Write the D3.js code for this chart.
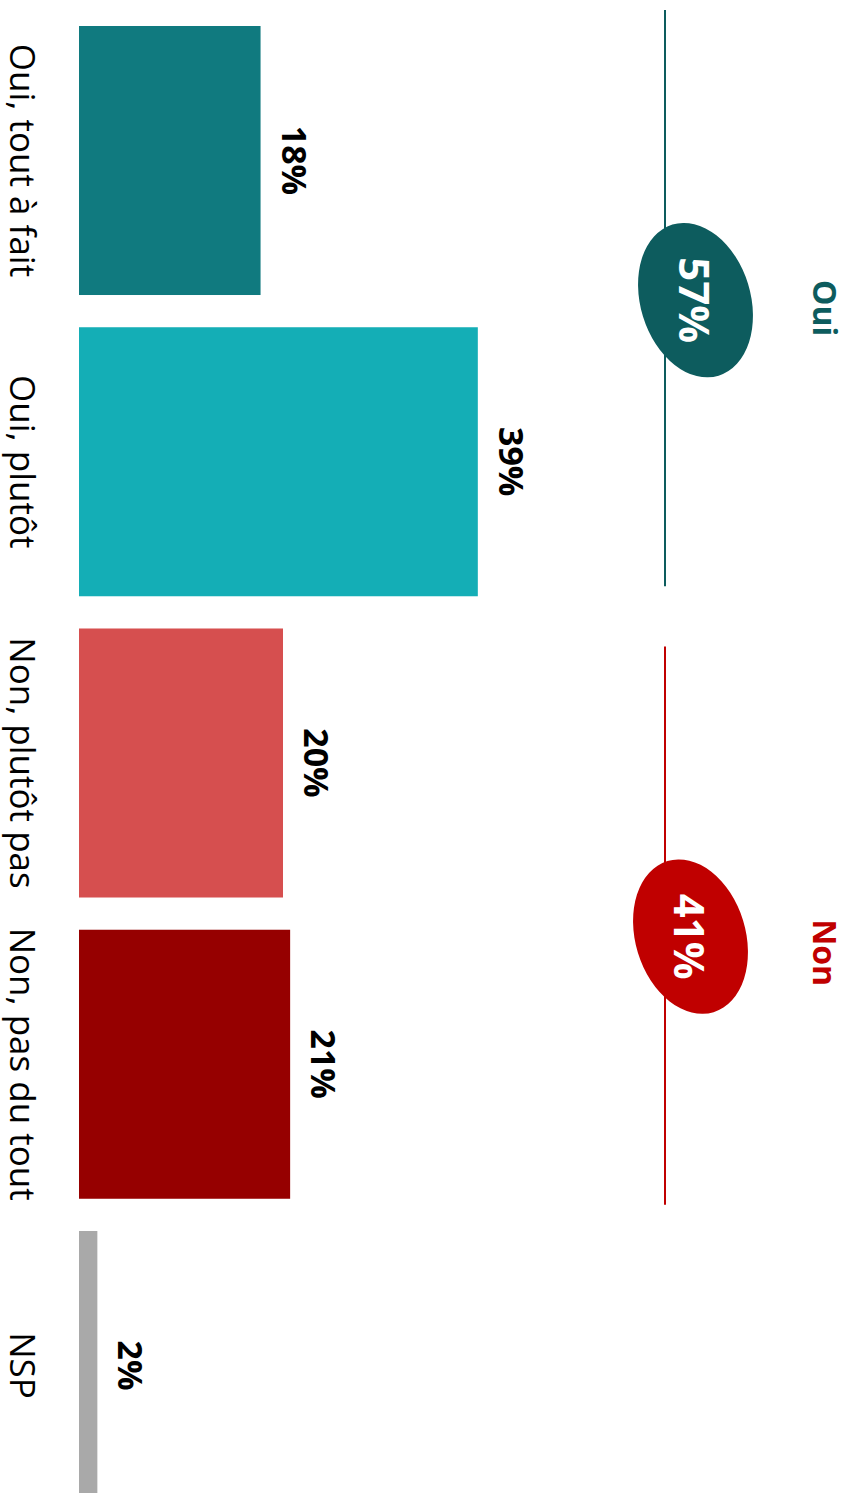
<!DOCTYPE html>
<html>
<head>
<meta charset="utf-8">
<script src="https://cdn.jsdelivr.net/npm/d3@7"></script>
<style>
  html, body { margin: 0; padding: 0; background: #ffffff; }
  svg { display: block; }
</style>
</head>
<body>
<svg id="chart" width="850" height="1493"></svg>
<script>
// ---- data ----
const categories = ["Oui, tout à fait", "Oui, plutôt", "Non, plutôt pas", "Non, pas du tout", "NSP"];
const values = [17.8, 39.1, 20.0, 20.7, 1.8];
const valueLabels = ["18%", "39%", "20%", "21%", "2%"];
const barColors = ["#107a7f", "#14aeb6", "#d64f4f", "#960000", "#a9a9a9"];

const groupNames = ["Oui", "Non"];
const groupTotals = ["57%", "41%"];
const groupMembers = [[0, 1], [2, 3]];
const groupColors = ["#0d5c5e", "#c00000"];

// ---- layout (rotated frame: x runs down the page, y runs right-to-left) ----
const W = 1493, H = 850;
const svg = d3.select("#chart");
const g = svg.append("g").attr("transform", `translate(${H},0) rotate(90)`);

const x = d3.scaleBand().domain(categories).range([26, 1500]).paddingInner(0.107).paddingOuter(0);
const y = d3.scaleLinear().domain([0, 100]).range([771, 771 - 1020]);

// bars
g.selectAll("rect.bar").data(categories).join("rect")
  .attr("class", "bar")
  .attr("x", d => x(d))
  .attr("width", x.bandwidth())
  .attr("y", (d, i) => y(values[i]))
  .attr("height", (d, i) => y(0) - y(values[i]))
  .attr("fill", (d, i) => barColors[i]);

// value labels
g.selectAll("text.val").data(categories).join("text")
  .attr("class", "val")
  .attr("x", d => x(d) + x.bandwidth() / 2)
  .attr("y", (d, i) => y(values[i]) - 21)
  .attr("text-anchor", "middle")
  .attr("font-family", "'Open Sans', sans-serif")
  .attr("font-weight", 700)
  .attr("font-size", 34)
  .attr("fill", "#000")
  .text((d, i) => valueLabels[i]);

// category labels
g.selectAll("text.cat").data(categories).join("text")
  .attr("class", "cat")
  .attr("x", d => x(d) + x.bandwidth() / 2)
  .attr("y", 840)
  .attr("text-anchor", "middle")
  .attr("font-family", "'Open Sans', sans-serif")
  .attr("font-size", 35)
  .attr("fill", "#000")
  .text(d => d);

// group brackets
const lineY = 185;
const lineInset = [[-16, -10], [18, 6]];
const ellipseShift = [[2, 0], [11, 5]];
const labelShift = [10, 27];
groupNames.forEach((name, k) => {
  const first = categories[groupMembers[k][0]];
  const last = categories[groupMembers[k][groupMembers[k].length - 1]];
  const x0 = x(first) + lineInset[k][0];
  const x1 = x(last) + x.bandwidth() + lineInset[k][1];
  const mid = (x0 + x1) / 2;
  g.append("line")
    .attr("x1", x0).attr("x2", x1)
    .attr("y1", lineY).attr("y2", lineY)
    .attr("stroke", groupColors[k]).attr("stroke-width", 2);
  const cx = mid + ellipseShift[k][0];
  const cy = 154.5 + ellipseShift[k][1];
  g.append("ellipse")
    .attr("cx", cx).attr("cy", cy)
    .attr("rx", 79).attr("ry", 55)
    .attr("transform", `rotate(-17,${cx},${cy})`)
    .attr("fill", groupColors[k]);
  g.append("text")
    .attr("x", cx).attr("y", cy)
    .attr("text-anchor", "middle")
    .attr("dominant-baseline", "central")
    .attr("font-family", "'Open Sans', sans-serif")
    .attr("font-weight", 700)
    .attr("font-size", 42)
    .attr("fill", "#fff")
    .text(groupTotals[k]);
  g.append("text")
    .attr("x", mid + labelShift[k]).attr("y", 37)
    .attr("text-anchor", "middle")
    .attr("font-family", "'Open Sans', sans-serif")
    .attr("font-weight", 700)
    .attr("font-size", 32)
    .attr("fill", groupColors[k])
    .text(name);
});
</script>
</body>
</html>
